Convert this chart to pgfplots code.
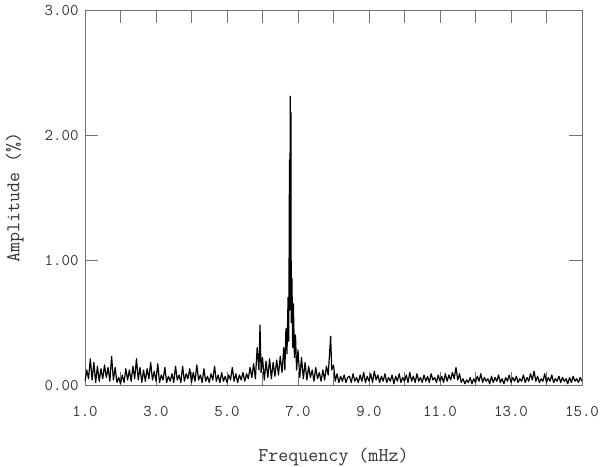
\documentclass[border=0pt]{standalone}
\usepackage{fontspec}
\usepackage{pgfplots}
\pgfplotsset{compat=1.18}

\pgfplotstableread{
f a
1.00 0.03
1.05 0.12
1.10 0.05
1.15 0.21
1.20 0.04
1.25 0.18
1.30 0.02
1.35 0.15
1.40 0.03
1.45 0.13
1.50 0.05
1.55 0.16
1.60 0.06
1.65 0.14
1.70 0.03
1.75 0.23
1.80 0.04
1.85 0.14
1.90 0.02
1.95 0.06
2.00 0.01
2.05 0.08
2.10 0.02
2.15 0.13
2.20 0.04
2.25 0.12
2.30 0.03
2.35 0.15
2.40 0.05
2.45 0.21
2.50 0.04
2.55 0.14
2.60 0.02
2.65 0.12
2.70 0.03
2.75 0.13
2.80 0.05
2.85 0.18
2.90 0.04
2.95 0.11
3.00 0.03
3.05 0.17
3.10 0.02
3.15 0.08
3.20 0.04
3.25 0.14
3.30 0.02
3.35 0.07
3.40 0.03
3.45 0.09
3.50 0.02
3.55 0.15
3.60 0.04
3.65 0.08
3.70 0.02
3.75 0.15
3.80 0.03
3.85 0.09
3.90 0.05
3.95 0.13
4.00 0.02
4.05 0.10
4.10 0.03
4.15 0.16
4.20 0.04
4.25 0.08
4.30 0.02
4.35 0.13
4.40 0.03
4.45 0.07
4.50 0.02
4.55 0.09
4.60 0.04
4.65 0.15
4.70 0.03
4.75 0.08
4.80 0.02
4.85 0.10
4.90 0.03
4.95 0.07
5.00 0.02
5.05 0.08
5.10 0.04
5.15 0.14
5.20 0.03
5.25 0.09
5.30 0.02
5.35 0.08
5.40 0.04
5.45 0.10
5.50 0.03
5.55 0.09
5.60 0.05
5.65 0.14
5.70 0.06
5.75 0.17
5.80 0.05
5.85 0.30
5.90 0.12
5.93 0.48
5.96 0.10
6.00 0.22
6.05 0.04
6.10 0.19
6.15 0.06
6.20 0.21
6.25 0.05
6.30 0.18
6.35 0.07
6.40 0.20
6.45 0.08
6.50 0.23
6.55 0.10
6.60 0.30
6.63 0.12
6.66 0.45
6.69 0.25
6.72 0.70
6.74 0.35
6.76 1.80
6.77 0.60
6.78 2.31
6.79 0.90
6.80 2.18
6.81 0.50
6.83 0.85
6.85 0.30
6.87 0.65
6.90 0.22
6.93 0.40
6.96 0.12
7.00 0.28
7.05 0.06
7.10 0.22
7.15 0.05
7.20 0.18
7.25 0.04
7.30 0.15
7.35 0.06
7.40 0.12
7.45 0.03
7.50 0.14
7.55 0.05
7.60 0.10
7.65 0.03
7.70 0.12
7.75 0.04
7.80 0.15
7.85 0.08
7.90 0.30
7.92 0.39
7.95 0.12
8.00 0.16
8.05 0.03
8.10 0.09
8.15 0.02
8.20 0.07
8.25 0.03
8.30 0.08
8.35 0.02
8.40 0.06
8.45 0.07
8.50 0.02
8.55 0.09
8.60 0.03
8.65 0.06
8.70 0.02
8.75 0.08
8.80 0.03
8.85 0.10
8.90 0.02
8.95 0.07
9.00 0.03
9.05 0.09
9.10 0.02
9.15 0.11
9.20 0.04
9.25 0.08
9.30 0.02
9.35 0.07
9.40 0.03
9.45 0.09
9.50 0.02
9.55 0.06
9.60 0.03
9.65 0.08
9.70 0.01
9.75 0.07
9.80 0.03
9.85 0.09
9.90 0.02
9.95 0.06
10.00 0.03
10.05 0.08
10.10 0.02
10.15 0.10
10.20 0.03
10.25 0.07
10.30 0.02
10.35 0.09
10.40 0.03
10.45 0.06
10.50 0.02
10.55 0.08
10.60 0.03
10.65 0.07
10.70 0.02
10.75 0.09
10.80 0.04
10.85 0.06
10.90 0.02
10.95 0.08
11.00 0.03
11.05 0.07
11.10 0.02
11.15 0.09
11.20 0.03
11.25 0.08
11.30 0.04
11.35 0.10
11.40 0.05
11.45 0.14
11.50 0.04
11.55 0.09
11.60 0.02
11.65 0.05
11.70 0.01
11.75 0.04
11.80 0.02
11.85 0.06
11.90 0.01
11.95 0.05
12.00 0.02
12.05 0.07
12.10 0.03
12.15 0.09
12.20 0.02
12.25 0.06
12.30 0.03
12.35 0.05
12.40 0.01
12.45 0.07
12.50 0.02
12.55 0.06
12.60 0.03
12.65 0.08
12.70 0.02
12.75 0.05
12.80 0.01
12.85 0.06
12.90 0.03
12.95 0.08
13.00 0.02
13.05 0.06
13.10 0.03
13.15 0.07
13.20 0.02
13.25 0.05
13.30 0.03
13.35 0.08
13.40 0.02
13.45 0.06
13.50 0.03
13.55 0.09
13.60 0.04
13.65 0.11
13.70 0.03
13.75 0.07
13.80 0.02
13.85 0.05
13.90 0.03
13.95 0.09
14.00 0.02
14.05 0.06
14.10 0.03
14.15 0.08
14.20 0.02
14.25 0.05
14.30 0.03
14.35 0.07
14.40 0.02
14.45 0.06
14.50 0.03
14.55 0.05
14.60 0.01
14.65 0.06
14.70 0.02
14.75 0.07
14.80 0.03
14.85 0.05
14.90 0.02
14.95 0.06
15.00 0.03
}\spectrum

\begin{document}
\begin{tikzpicture}
\begin{axis}[
name=ax,
scale only axis,
width=497bp,
height=375bp,
xmin=1, xmax=15,
ymin=0, ymax=3,
xtick={1,...,15},
xticklabels={1.0,,3.0,,5.0,,7.0,,9.0,,11.0,,13.0,,15.0},
ytick={0,1,2,3},
yticklabels={0.00,1.00,2.00,3.00},
tick align=inside,
major tick length=13bp,
axis line style={black!55,line width=0.6pt},
tick style={black!55,line width=0.6pt},
/pgf/number format/assume math mode=true,
tick label style={font=\ttfamily\fontsize{16.5}{18}\selectfont,text=black!80},
xticklabel style={yshift=-18bp},
yticklabel style={xshift=-3bp},
label style={font=\ttfamily\fontsize{19.5}{22}\selectfont,text=black!80},
xlabel={Frequency (mHz)},
ylabel={Amplitude (\%)},
xlabel style={yshift=-24bp},
ylabel style={yshift=14bp},
]
\addplot[black,line width=1.2pt,line join=round] table[x=f,y=a] {\spectrum};
\end{axis}
\pgfresetboundingbox
\path[use as bounding box] (ax.south west) ++(-85bp,-82bp) rectangle ([shift={(18bp,10bp)}]ax.north east);
\end{tikzpicture}
\end{document}
